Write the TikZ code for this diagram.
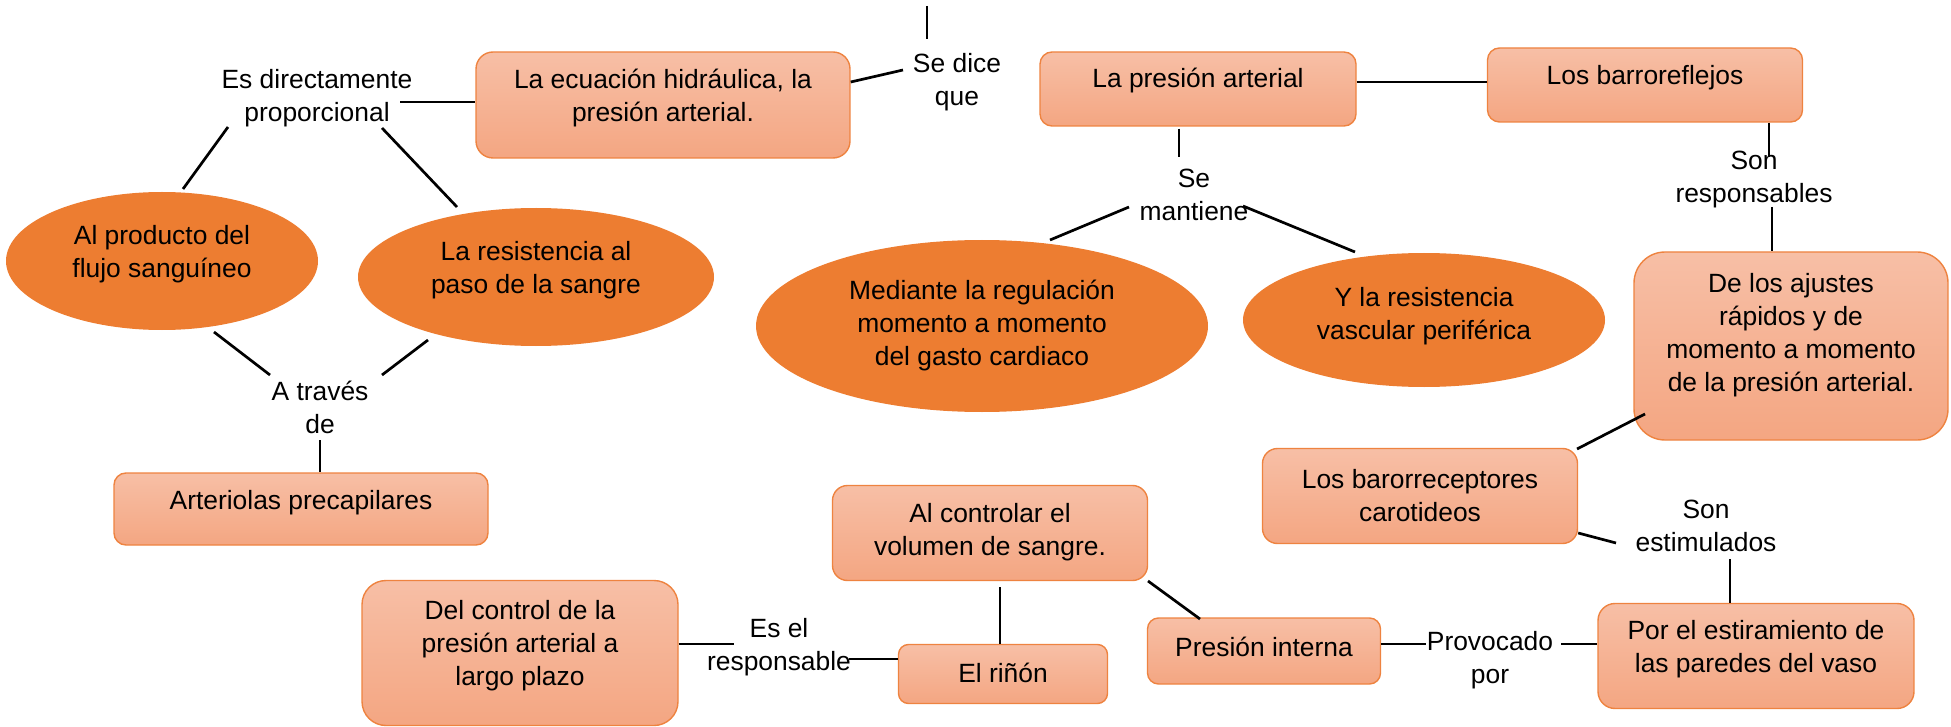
\documentclass[tikz,border=0pt]{standalone}
\usepackage{fontspec}
\setmainfont{Liberation Sans}
\usetikzlibrary{shapes.geometric}
\definecolor{boxtop}{HTML}{F7BFA6}
\definecolor{boxbot}{HTML}{F4A682}
\definecolor{boxedge}{HTML}{EE8340}
\definecolor{ovalfill}{HTML}{ED7D31}
\tikzset{
  bx/.style={rectangle, draw=boxedge, line width=1.4pt, top color=boxtop, bottom color=boxbot, inner sep=0pt},
  ov/.style={ellipse, fill=ovalfill, draw=none, inner sep=0pt},
  tx/.style={font=\fontsize{26.4}{33}\selectfont, align=center, inner sep=0pt, text=black},
  conn/.style={line width=2.7pt, black}
}
\begin{document}
\begin{tikzpicture}[x=1pt,y=-1pt]
\useasboundingbox (0,0) rectangle (1951,727);
% boxes
\node[bx, rounded corners=17pt, minimum width=374pt, minimum height=106pt] (ecu) at (663,105) {};
\node[bx, rounded corners=12pt, minimum width=316pt, minimum height=74pt] (pa) at (1198,89) {};
\node[bx, rounded corners=12pt, minimum width=315pt, minimum height=74pt] (bar) at (1645,85) {};
\node[bx, rounded corners=12pt, minimum width=374pt, minimum height=72pt] (art) at (301,509) {};
\node[bx, rounded corners=24pt, minimum width=316pt, minimum height=145pt] (del) at (520,653) {};
\node[bx, rounded corners=31pt, minimum width=314pt, minimum height=188pt] (aju) at (1791,346) {};
\node[bx, rounded corners=15pt, minimum width=315pt, minimum height=95pt] (ctrl) at (990,533) {};
\node[bx, rounded corners=10pt, minimum width=209pt, minimum height=59pt] (rin) at (1003,674) {};
\node[bx, rounded corners=11pt, minimum width=233pt, minimum height=66pt] (pin) at (1264,651) {};
\node[bx, rounded corners=17pt, minimum width=316pt, minimum height=105pt] (est) at (1756,656) {};
\node[bx, rounded corners=15pt, minimum width=315pt, minimum height=95pt] (baro) at (1420,496) {};
% ellipses
\node[ov, minimum width=312pt, minimum height=138pt] (prod) at (162,261) {};
\node[ov, minimum width=356pt, minimum height=138pt] (res) at (536,277) {};
\node[ov, minimum width=452pt, minimum height=172pt] (med) at (982,326) {};
\node[ov, minimum width=362pt, minimum height=134pt] (vasc) at (1424,320) {};
% texts in shapes
\node[tx] (ecut) at (663,98) {La ecuación hidráulica, la\\presión arterial.};
\node[tx] (pat) at (1198,80.5) {La presión arterial};
\node[tx] (bart) at (1645,77.5) {Los barroreflejos};
\node[tx] (artt) at (301,502.5) {Arteriolas precapilares};
\node[tx] (delt) at (520,645.5) {Del control de la\\presión arterial a\\largo plazo};
\node[tx] (ajut) at (1791,335.5) {De los ajustes\\rápidos y de\\momento a momento\\de la presión arterial.};
\node[tx] (ctrlt) at (990,532.5) {Al controlar el\\volumen de sangre.};
\node[tx] (rint) at (1003,672.5) {El riñón};
\node[tx] (pint) at (1264,646.5) {Presión interna};
\node[tx] (estt) at (1756,649) {Por el estiramiento de\\las paredes del vaso};
\node[tx] (barot) at (1420,495.5) {Los barorreceptores\\carotideos};
\node[tx] (prodt) at (162,254.5) {Al producto del\\flujo sanguíneo};
\node[tx] (rest) at (536,270.5) {La resistencia al\\paso de la sangre};
\node[tx] (medt) at (982,325.5) {Mediante la regulación\\momento a momento\\del gasto cardiaco};
\node[tx] (vasct) at (1424,316.5) {Y la resistencia\\vascular periférica};
% link labels
\node[tx] (sedice) at (957,82) {Se dice\\que};
\node[tx] (esdir) at (317,98) {Es directamente\\proporcional};
\node[tx] (trav) at (320,407) {A través\\de};
\node[tx] (esel) at (779,647) {Es el\\responsable};
\node[tx] (prov) at (1490,660) {Provocado\\por};
\node[tx] (estim) at (1706,526) {Son\\estimulados};
\node[tx] (resp) at (1754,180) {Son\\responsables};
\node[tx] (mant) at (1194,195) {Se\\mantiene};
% connector end points
\coordinate (t1) at (927,6); \coordinate (t2) at (927,39);
\coordinate (c2) at (903,70);
\coordinate (c3) at (400,102);
\coordinate (c4a) at (228,127); \coordinate (c4b) at (183,189);
\coordinate (c5a) at (382,128); \coordinate (c5b) at (457,207);
\coordinate (c6a) at (214,332); \coordinate (c6b) at (270,375);
\coordinate (c7a) at (428,340); \coordinate (c7b) at (382,375);
\coordinate (c8) at (320,440);
\coordinate (c9) at (734,644);
\coordinate (c10) at (849,659);
\coordinate (c11) at (1000,587);
\coordinate (c12a) at (1148,581); \coordinate (c12b) at (1200,619);
\coordinate (c13) at (1426,644);
\coordinate (c14) at (1561,644);
\coordinate (c15) at (1730,559);
\coordinate (c16) at (1616,543);
\coordinate (c17a) at (1577,449); \coordinate (c17b) at (1645,414);
\coordinate (c18) at (1772,207);
\coordinate (c19) at (1769,157);
\coordinate (c21) at (1179,157);
\coordinate (c22a) at (1129,207); \coordinate (c22b) at (1050,240);
\coordinate (c23a) at (1243,206); \coordinate (c23b) at (1355,252);
% connectors
\draw[conn] (t1) -- (t2);
\draw[conn] (ecu.east |- 0,82) -- (c2);
\draw[conn] (c3) -- (ecu.west |- c3);
\draw[conn] (c4a) -- (c4b);
\draw[conn] (c5a) -- (c5b);
\draw[conn] (c6a) -- (c6b);
\draw[conn] (c7a) -- (c7b);
\draw[conn] (c8) -- (c8 |- art.north);
\draw[conn] (del.east |- c9) -- (c9);
\draw[conn] (c10) -- (rin.west |- c10);
\draw[conn] (c11) -- (c11 |- rin.north);
\draw[conn] (c12a) -- (c12b);
\draw[conn] (pin.east |- c13) -- (c13);
\draw[conn] (c14) -- (est.west |- c14);
\draw[conn] (c15) -- (c15 |- est.north);
\draw[conn] (baro.east |- c16) ++(0,-10) -- (c16);
\draw[conn] (c17a) -- (c17b);
\draw[conn] (c18) -- (c18 |- aju.north);
\draw[conn] (c19 |- bar.south) -- (c19);
\draw[conn] (pa.east |- 0,82) -- (bar.west |- 0,82);
\draw[conn] (c21 |- pa.south) ++(0,2) -- (c21);
\draw[conn] (c22a) -- (c22b);
\draw[conn] (c23a) -- (c23b);
\end{tikzpicture}
\end{document}
